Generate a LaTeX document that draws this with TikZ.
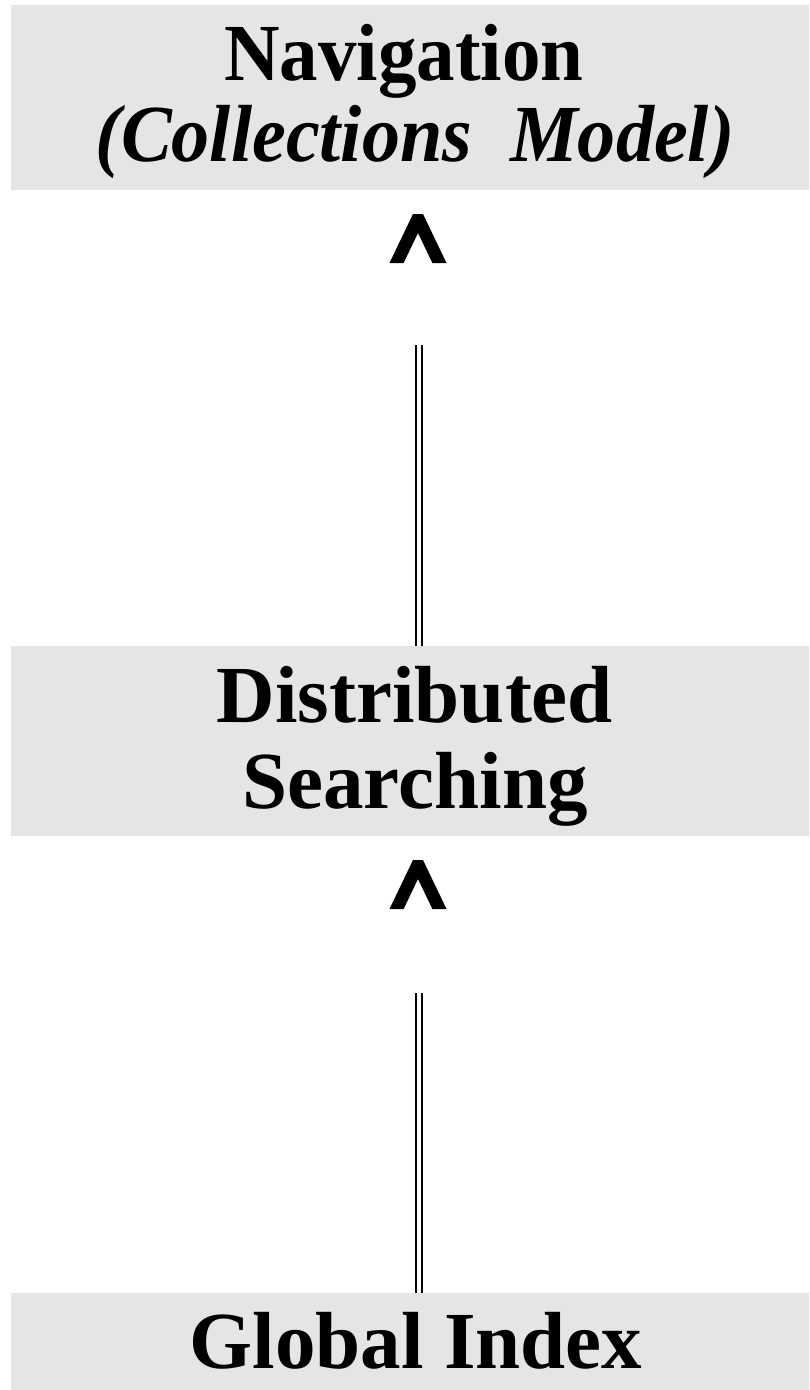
\documentclass[tikz,border=0pt]{standalone}
\usepackage{graphicx}
\usepackage{fontspec}
\setmainfont{Liberation Serif}
\definecolor{boxgray}{HTML}{E5E5E5}
\begin{document}
\begin{tikzpicture}[x=1pt,y=-1pt,
  box/.style={fill=boxgray, draw=none, inner sep=0pt, anchor=north west},
  lbl/.style={anchor=base, inner sep=0pt, font=\fontsize{81}{81}\selectfont\bfseries},
  link/.style={draw=black, line width=2.3pt, double=white, double distance=3.3pt},
  caret/.pic={\fill (-5,0) -- (5,0) -- (28.5,49) -- (14.4,49) -- (0,19) -- (-14.4,49) -- (-28.5,49) -- cycle;}]
\clip (0,0) rectangle (809,1390);

% layer boxes
\node[box, minimum width=810pt, minimum height=185pt] (nav) at (11,5) {};
\node[box, minimum width=810pt, minimum height=190pt] (dist) at (11,646) {};
\node[box, minimum width=810pt, minimum height=110pt] (glob) at (11,1293) {};

% layer titles
\node[lbl] (navA) at (404,80) {\scalebox{0.95}[1]{Navigation}};
\node[lbl] (navB) at (415,161) {\scalebox{0.94}[1]{\itshape(Collections\ \ Model)}};
\node[lbl] (distA) at (415,722) {Distributed};
\node[lbl] (distB) at (415,808) {Searching};
\node[lbl] (globA) at (416,1368) {Global\ Index};

% links between layers: double rule with a detached caret head
\coordinate (t1) at (419,345);
\draw[link] (t1 |- dist.north) -- (t1);
\pic at (418,214) {caret};

\coordinate (t2) at (419,993);
\draw[link] (t2 |- glob.north) -- (t2);
\pic at (418,860) {caret};
\end{tikzpicture}
\end{document}
